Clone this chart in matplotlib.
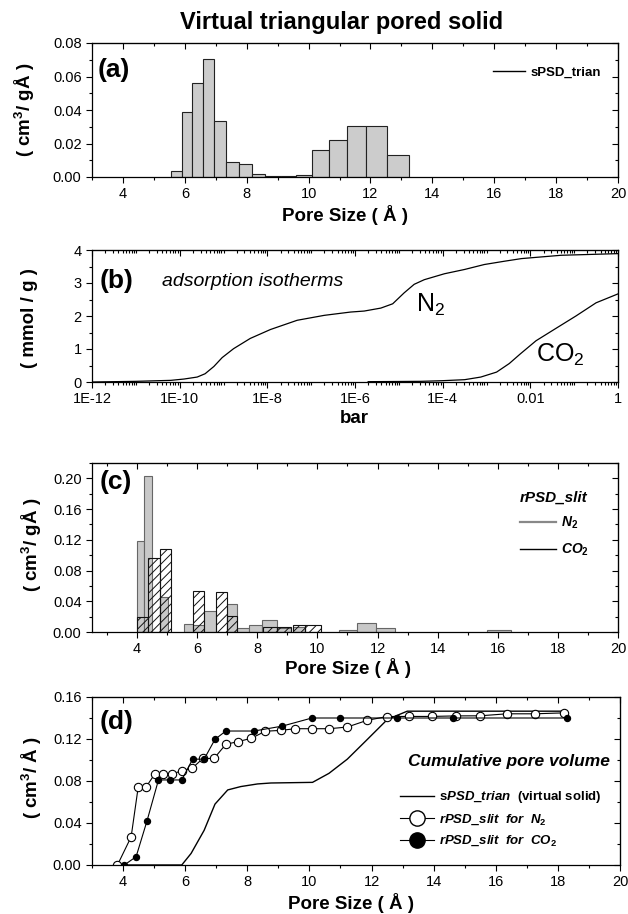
import numpy as np
import matplotlib
matplotlib.use('Agg')
import matplotlib.pyplot as plt
from matplotlib.ticker import MultipleLocator, LogLocator, FixedLocator, FixedFormatter, NullFormatter, FormatStrFormatter
from matplotlib.lines import Line2D

plt.rcParams['font.family'] = ['Liberation Sans', 'DejaVu Sans']
plt.rcParams['mathtext.fontset'] = 'custom'
plt.rcParams['mathtext.rm'] = 'Liberation Sans:bold'
plt.rcParams['mathtext.it'] = 'Liberation Sans:italic:bold'
plt.rcParams['mathtext.bf'] = 'Liberation Sans:bold'
plt.rcParams['mathtext.sf'] = 'Liberation Sans'
plt.rcParams['hatch.linewidth'] = 0.7

# (a) virtual solid PSD, bin edges and heights
a_edges = [5.55, 5.90, 6.23, 6.58, 6.94, 7.33, 7.74, 8.17, 8.58, 9.10, 9.59,
           10.10, 10.65, 11.25, 11.87, 12.52, 13.23]
a_psd = [0.0037, 0.0388, 0.0559, 0.0706, 0.0333, 0.0088, 0.0080, 0.0020,
         0.0003, 0.0003, 0.0010, 0.0159, 0.0221, 0.0303, 0.0303, 0.0131]

# (b) isotherms, log10(pressure / bar)
n2_logp = [-12, -11, -10.2, -9.9, -9.6, -9.42, -9.22, -9.03, -8.77, -8.39, -7.93,
           -7.32, -6.7, -6.1, -5.79, -5.41, -5.14, -4.88, -4.65, -4.42, -3.96,
           -3.5, -3.05, -2.59, -2.2, -1.3, 0]
n2_ads = [0, 0.02, 0.05, 0.09, 0.15, 0.25, 0.47, 0.74, 1.01, 1.32, 1.59,
          1.87, 2.02, 2.12, 2.15, 2.24, 2.37, 2.70, 2.96, 3.10, 3.28,
          3.41, 3.56, 3.66, 3.74, 3.84, 3.89]
co2_logp = [-5.7, -4.5, -4.0, -3.5, -3.13, -2.77, -2.48, -2.23, -1.87, -1.41, -0.96, -0.5, 0]
co2_ads = [0.01, 0.02, 0.04, 0.07, 0.15, 0.30, 0.56, 0.85, 1.25, 1.63, 2.0, 2.4, 2.67]
b_tick_pos = [1e-12, 1e-10, 1e-8, 1e-6, 1e-4, 1e-2, 1]
b_tick_lab = ['1E-12', '1E-10', '1E-8', '1E-6', '1E-4', '0.01', '1']

# (c) recovered PSDs (slit model): bin left, bin right, height
c_n2_lo = [4.00, 4.23, 4.76, 5.57, 5.86, 6.24, 7.00, 7.34, 7.73, 8.17, 8.64, 9.18, 10.71, 11.30, 11.94, 15.64]
c_n2_hi = [4.23, 4.48, 5.04, 5.86, 6.24, 6.61, 7.34, 7.73, 8.17, 8.64, 9.13, 9.60, 11.30, 11.94, 12.59, 16.45]
c_n2 = [0.119, 0.2035, 0.045, 0.011, 0.0087, 0.0274, 0.037, 0.0055, 0.0085, 0.016, 0.005, 0.006,
        0.003, 0.0117, 0.0048, 0.003]
c_co2_lo = [4.00, 4.37, 4.76, 5.86, 6.61, 7.00, 8.20, 8.64, 9.18, 9.60]
c_co2_hi = [4.37, 4.76, 5.12, 6.24, 7.00, 7.34, 8.64, 9.13, 9.60, 10.13]
c_co2 = [0.0196, 0.0957, 0.108, 0.0535, 0.0522, 0.0213, 0.0065, 0.0065, 0.0096, 0.0096]

# (d) cumulative pore volume
d_trian_x = [3.8, 5.89, 6.19, 6.61, 6.96, 7.37, 7.79, 8.33, 8.76, 10.1, 10.63, 11.22, 11.81, 12.51, 13.15, 18.2]
d_trian_y = [0, 0, 0.011, 0.033, 0.058, 0.0715, 0.0747, 0.0772, 0.0781, 0.0787, 0.0873, 0.1008,
             0.118, 0.1386, 0.1465, 0.1465]
d_n2_x = [3.82, 4.26, 4.49, 4.75, 5.02, 5.30, 5.58, 5.89, 6.23, 6.57, 6.93, 7.31, 7.69, 8.13,
          8.58, 9.07, 9.55, 10.09, 10.64, 11.22, 11.86, 12.50, 13.20, 13.95, 14.71, 15.50,
          16.36, 17.25, 18.21]
d_n2_y = [0, 0.0268, 0.0747, 0.0747, 0.0866, 0.0866, 0.0866, 0.0898, 0.0923, 0.1015, 0.1015,
          0.115, 0.1174, 0.1207, 0.1274, 0.1282, 0.1298, 0.1298, 0.1298, 0.1314, 0.1378,
          0.1414, 0.1415, 0.1415, 0.1420, 0.1421, 0.1440, 0.1440, 0.1449]
d_co2_x = [4.04, 4.42, 4.77, 5.14, 5.51, 5.89, 6.24, 6.61, 6.96, 7.31, 8.22, 9.13, 10.08,
           10.98, 12.81, 14.63, 18.28]
d_co2_y = [0, 0.0079, 0.0419, 0.081, 0.081, 0.081, 0.1008, 0.1008, 0.1197, 0.1276, 0.1276,
           0.1323, 0.1400, 0.1400, 0.1400, 0.1400, 0.1400]

W, H = 628.0, 914.0


def box(l, t, r, b):
    return [l / W, 1 - b / H, (r - l) / W, (b - t) / H]


def frame(ax, xmaj, xmin, ymaj, ymin):
    ax.xaxis.set_major_locator(xmaj())
    ax.xaxis.set_minor_locator(xmin())
    ax.yaxis.set_major_locator(MultipleLocator(ymaj))
    ax.yaxis.set_minor_locator(MultipleLocator(ymin))
    ax.tick_params(which='both', direction='out', top=False, right=False, labelsize=10.5, width=0.8)
    ax.tick_params(which='major', length=4)
    ax.tick_params(which='minor', length=2)
    top = ax.secondary_xaxis('top')
    top.xaxis.set_major_locator(xmaj())
    top.xaxis.set_minor_locator(xmin())
    top.xaxis.set_major_formatter(NullFormatter())
    top.xaxis.set_minor_formatter(NullFormatter())
    top.tick_params(which='both', direction='in', width=0.8)
    top.tick_params(which='major', length=4)
    top.tick_params(which='minor', length=2)
    rgt = ax.secondary_yaxis('right')
    rgt.yaxis.set_major_locator(MultipleLocator(ymaj))
    rgt.yaxis.set_minor_locator(MultipleLocator(ymin))
    rgt.yaxis.set_major_formatter(NullFormatter())
    rgt.tick_params(which='both', direction='in', width=0.8)
    rgt.tick_params(which='major', length=4)
    rgt.tick_params(which='minor', length=2)
    for s in ax.spines.values():
        s.set_linewidth(0.9)


fig = plt.figure(figsize=(6.28, 9.14), dpi=100)
lab = dict(fontsize=13.5, fontweight='bold', ha='center', va='center')
tag = dict(fontsize=19, fontweight='bold', ha='left', va='center')

fig.text(342 / W, 1 - 23 / H, 'Virtual triangular pored solid', fontsize=17, fontweight='bold',
         ha='center', va='center')

# ---- (a)
ax = fig.add_axes(box(92, 43, 618, 177))
ax.bar(a_edges[:-1], a_psd, width=np.diff(a_edges), align='edge', color='#cccccc',
       edgecolor='#222222', linewidth=0.8)
ax.set_xlim(3, 20)
ax.set_ylim(0, 0.08)
frame(ax, lambda: MultipleLocator(2), lambda: MultipleLocator(1), 0.02, 0.01)
ax.yaxis.set_major_formatter(FormatStrFormatter('%.2f'))
ax.text(0.011, 0.80, '(a)', transform=ax.transAxes, **tag)
ax.legend([Line2D([], [], color='black', lw=1)], ['sPSD_trian'], loc='center right',
          bbox_to_anchor=(0.99, 0.78), frameon=False, handlelength=2.4, handletextpad=0.4,
          prop=dict(weight='bold', size=9.5))
fig.text(345 / W, 1 - 215 / H, 'Pore Size ( Å )', **lab)
fig.text(25 / W, 1 - 110 / H, '( cm$^3$/ gÅ )', rotation=90, **lab)

# ---- (b)
ax = fig.add_axes(box(92, 250, 618, 382))
ax.plot(10 ** np.array(n2_logp), n2_ads, color='black', lw=0.9)
ax.plot(10 ** np.array(co2_logp), co2_ads, color='black', lw=0.9)
ax.set_xscale('log')
ax.set_xlim(1e-12, 1)
ax.set_ylim(0, 4)
frame(ax, lambda: FixedLocator(b_tick_pos),
      lambda: LogLocator(base=10, subs=np.arange(1, 10), numticks=30), 1, 0.5)
ax.xaxis.set_major_formatter(FixedFormatter(b_tick_lab))
ax.xaxis.set_minor_formatter(NullFormatter())
ax.text(0.015, 0.765, '(b)', transform=ax.transAxes, **tag)
ax.text(0.133, 0.765, 'adsorption isotherms', transform=ax.transAxes, fontsize=14,
        fontstyle='italic', ha='left', va='center')
ax.text(2.45e-5, 2.12, 'N$_\\mathsf{2}$', fontsize=18, ha='left', va='baseline')
ax.text(1.35e-2, 0.61, 'CO$_\\mathsf{2}$', fontsize=18, ha='left', va='baseline')
fig.text(354 / W, 1 - 419 / H, 'bar', **lab)
fig.text(30 / W, 1 - 318 / H, '( mmol / g )', rotation=90, **lab)

# ---- (c)
ax = fig.add_axes(box(92, 463, 618, 632))
lo, hi = np.array(c_n2_lo), np.array(c_n2_hi)
ax.bar(lo, c_n2, width=hi - lo, align='edge', color='#c8c8c8', edgecolor='#666666',
       linewidth=0.8, zorder=2)
lo, hi = np.array(c_co2_lo), np.array(c_co2_hi)
ax.bar(lo, c_co2, width=hi - lo, align='edge', facecolor='none', edgecolor='#111111',
       hatch='////', linewidth=0.8, zorder=3)
ax.set_xlim(2.5, 20)
ax.set_ylim(0, 0.22)
frame(ax, lambda: MultipleLocator(2), lambda: MultipleLocator(1), 0.04, 0.02)
ax.yaxis.set_major_formatter(FormatStrFormatter('%.2f'))
ax.text(0.015, 0.89, '(c)', transform=ax.transAxes, **tag)
leg = ax.legend([Line2D([], [], color='#888888', lw=1.6), Line2D([], [], color='black', lw=1)],
                ['N$_\\mathit{2}$', 'CO$_\\mathit{2}$'], loc='upper left',
                bbox_to_anchor=(0.80, 0.88), frameon=False, handlelength=2.6,
                handletextpad=0.4, labelspacing=0.75, borderpad=0, alignment='left',
                title='rPSD_slit', prop=dict(weight='bold', style='italic', size=10),
                title_fontproperties=dict(weight='bold', style='italic', size=11))
fig.text(348 / W, 1 - 668 / H, 'Pore Size ( Å )', **lab)
fig.text(32 / W, 1 - 545 / H, '( cm$^3$/ gÅ )', rotation=90, **lab)

# ---- (d)
ax = fig.add_axes(box(92, 697, 620, 865))
ax.plot(d_trian_x, d_trian_y, color='black', lw=1)
ax.plot(d_n2_x, d_n2_y, color='black', lw=0.8, marker='o', ms=6, mfc='white', mec='black', mew=0.8)
ax.plot(d_co2_x, d_co2_y, color='black', lw=0.8, marker='o', ms=4.3, mfc='black', mec='black')
ax.set_xlim(3, 20)
ax.set_ylim(0, 0.16)
frame(ax, lambda: MultipleLocator(2), lambda: MultipleLocator(1), 0.04, 0.02)
ax.yaxis.set_major_formatter(FormatStrFormatter('%.2f'))
ax.text(0.015, 0.85, '(d)', transform=ax.transAxes, **tag)
ax.text(0.98, 0.615, 'Cumulative pore volume', transform=ax.transAxes, fontsize=12.5,
        fontweight='bold', fontstyle='italic', ha='right', va='center')
hd = [Line2D([], [], color='black', lw=1),
      Line2D([], [], color='black', lw=0.8, marker='o', ms=11, mfc='white', mec='black'),
      Line2D([], [], color='black', lw=0.8, marker='o', ms=11, mfc='black', mec='black')]
leg = ax.legend(hd, ['s$\\mathit{PSD\\_trian}$  (virtual solid)',
                     'rPSD_slit  for  N$_\\mathit{2}$',
                     'rPSD_slit  for  CO$_\\mathit{2}$'],
                loc='center left', bbox_to_anchor=(0.57, 0.275), frameon=False,
                handlelength=2.6, handletextpad=0.4, labelspacing=0.55, borderpad=0,
                prop=dict(weight='bold', size=9.5))
for t in leg.get_texts()[1:]:
    t.set_fontstyle('italic')
fig.text(351 / W, 1 - 903 / H, 'Pore Size ( Å )', **lab)
fig.text(32 / W, 1 - 778 / H, '( cm$^3$/ Å )', rotation=90, **lab)

fig.savefig('out.png', dpi=100)
